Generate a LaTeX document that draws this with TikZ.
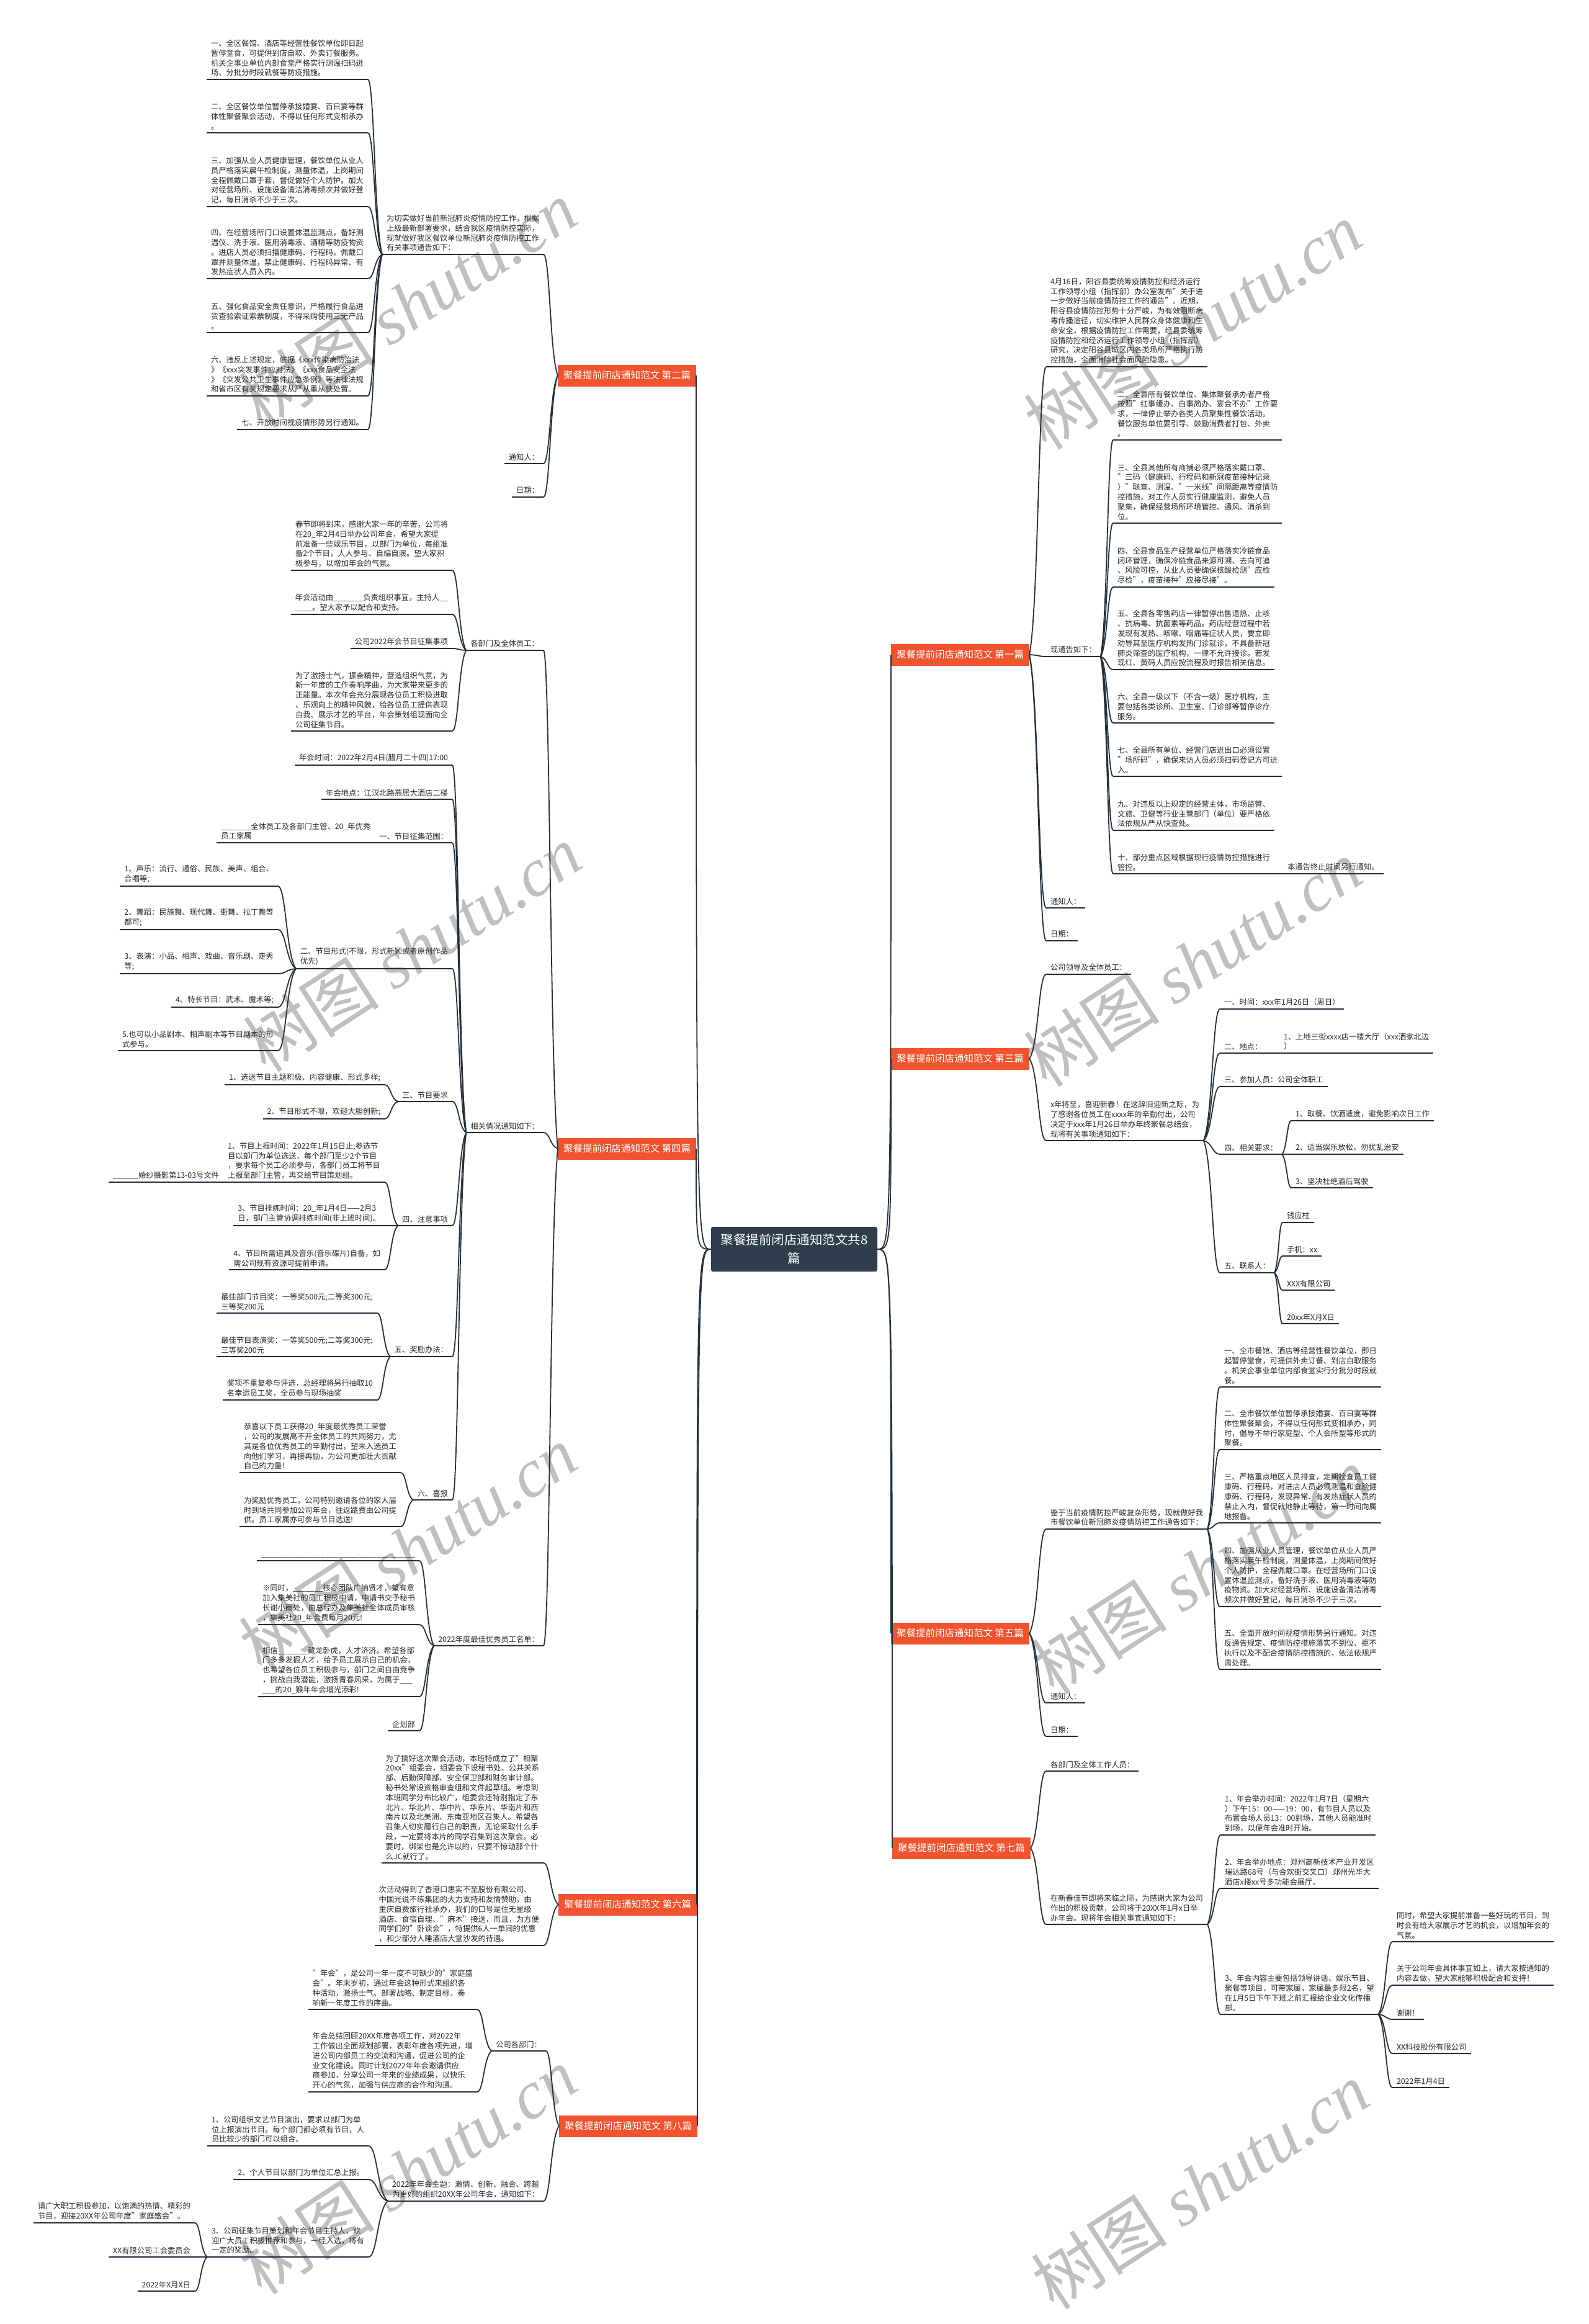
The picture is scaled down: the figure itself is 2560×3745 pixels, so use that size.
\documentclass[tikz,border=0pt]{standalone}
\usepackage{fontspec}
\setmainfont{Noto Sans CJK SC}
\newfontfamily\wmlat{Liberation Serif}
\usetikzlibrary{calc}
\definecolor{linec}{RGB}{35,47,58}
\definecolor{txt}{RGB}{40,40,40}
\definecolor{redn}{RGB}{240,83,45}
\definecolor{cen}{RGB}{47,62,77}
\newcommand\fsz{\fontsize{12.3}{15.8}\selectfont}
\newcommand\cn[2]{\draw[conn] let \p1=(#1), \p2=(#2) in (\p1) .. controls ({\x1+0.55*(\x2-\x1)},{\y1+0.15*(\y2-\y1)}) and ({\x1+0.55*(\x2-\x1)},{\y2}) .. (\p2);}
\newcommand\ccL[1]{\draw[conn] (c.west) .. controls (#1.east |- c.west) .. (#1.east);}
\newcommand\ccR[1]{\draw[conn] (c.east) .. controls (#1.west |- c.east) .. (#1.west);}
\tikzset{
  conn/.style={draw=linec, line width=1.8pt},
  ul/.style={draw=linec, line width=2.4pt},
  lf/.style={font=\fsz, text=txt, align=left, inner xsep=7pt, inner ysep=5pt, outer sep=0pt,
    append after command={(\tikzlastnode.south west) edge[ul] (\tikzlastnode.south east)}},
  lfL/.style={lf, anchor=south east},
  lfR/.style={lf, anchor=south west},
  topic/.style={fill=redn, text=white, font=\fontsize{15.5}{18}\selectfont, inner xsep=9pt, inner ysep=0pt, minimum height=35pt, outer sep=0pt},
  cenn/.style={fill=cen, text=white, align=center, font=\fontsize{20.5}{30}\selectfont, minimum width=268pt, minimum height=72pt, rounded corners=3pt, outer sep=0pt},
  wm/.style={text=black!25, font=\fontsize{110}{120}\selectfont, rotate=33}
}
\begin{document}
\begin{tikzpicture}[x=1pt,y=-1pt]
\path[fill=white] (0,0) rectangle (2560,3745);
\useasboundingbox (0,0) rectangle (2560,3745);
% watermarks
\foreach \wx/\wy in {657/490, 1922/525, 664/1528, 1922/1552, 657/2496, 1934/2531, 657/3498, 1934/3522}
  \node[wm] at (\wx,\wy) {树图 {\wmlat\itshape shutu.cn}};

% center
\node[cenn] (c) at (1280,2013) {聚餐提前闭店通知范文共8\\篇};

% ---------- 第二篇 ----------
\node[topic, anchor=east] (r2) at (1122,605) {聚餐提前闭店通知范文 第二篇};
\node[lfL] (a0) at (876,410) {为切实做好当前新冠肺炎疫情防控工作，根据\\上级最新部署要求，结合我区疫情防控实际，\\现就做好我区餐饮单位新冠肺炎疫情防控工作\\有关事项通告如下：};
\node[lfL] (a1) at (593,128) {一、全区餐馆、酒店等经营性餐饮单位即日起\\暂停堂食，可提供到店自取、外卖订餐服务。\\机关企事业单位内部食堂严格实行测温扫码进\\场、分批分时段就餐等防疫措施。};
\node[lfL] (a2) at (593,214) {二、全区餐饮单位暂停承接婚宴、百日宴等群\\体性聚餐聚会活动，不得以任何形式变相承办\\。};
\node[lfL] (a3) at (593,333) {三、加强从业人员健康管理，餐饮单位从业人\\员严格落实晨午检制度，测量体温，上岗期间\\全程佩戴口罩手套，督促做好个人防护。加大\\对经营场所、设施设备清洁消毒频次并做好登\\记，每日消杀不少于三次。};
\node[lfL] (a4) at (593,449) {四、在经营场所门口设置体温监测点，备好测\\温仪、洗手液、医用消毒液、酒精等防疫物资\\。进店人员必须扫描健康码、行程码，佩戴口\\罩并测量体温，禁止健康码、行程码异常、有\\发热症状人员入内。};
\node[lfL] (a5) at (593,536) {五、强化食品安全责任意识，严格履行食品进\\货查验索证索票制度，不得采购使用三无产品\\。};
\node[lfL] (a6) at (593,638) {六、违反上述规定，依据《xxx传染病防治法\\》《xxx突发事件应对法》《xxx食品安全法\\》《突发公共卫生事件应急条例》等法律法规\\和省市区有关规定要求从严从重从快处置。};
\node[lfL] (a7) at (593,692) {七、开放时间视疫情形势另行通知。};
\node[lfL] (a8) at (876,747) {通知人：};
\node[lfL] (a9) at (876,801) {日期：};

% ---------- 第四篇 ----------
\node[topic, anchor=east] (r4) at (1122,1851) {聚餐提前闭店通知范文 第四篇};
\node[lfL] (b1) at (876,1048) {各部门及全体员工：};
\node[lfL] (b11) at (729,919) {春节即将到来，感谢大家一年的辛苦，公司将\\在20\_年2月4日举办公司年会，希望大家提\\前准备一些娱乐节目，以部门为单位，每组准\\备2个节目，人人参与、自编自演。望大家积\\极参与，以增加年会的气氛。};
\node[lfL] (b12) at (729,990) {年会活动由\_\_\_\_\_\_\_负责组织事宜，主持人\_\_\\\_\_\_\_。望大家予以配合和支持。};
\node[lfL] (b13) at (729,1045) {公司2022年会节目征集事项};
\node[lfL] (b14) at (729,1178) {为了激扬士气，振奋精神，营造组织气氛，为\\新一年度的工作奏响序曲，为大家带来更多的\\正能量。本次年会充分展现各位员工积极进取\\、乐观向上的精神风貌，给各位员工提供表现\\自我、展示才艺的平台，年会策划组现面向全\\公司征集节目。};
\node[lfL] (b2) at (876,1825) {相关情况通知如下：};
\node[lfL] (b21) at (729,1233) {年会时间：2022年2月4日(腊月二十四)17:00};
\node[lfL] (b22) at (729,1288) {年会地点：江汉北路燕居大酒店二楼};
\node[lfL] (b23) at (729,1358) {一、节目征集范围：};
\node[lfL] (b231) at (b23.south west) {\_\_\_\_\_\_\_全体员工及各部门主管、20\_年优秀\\员工家属};
\node[lfL] (b24) at (729,1561) {二、节目形式(不限，形式新颖或者原创作品\\优先)};
\node[lfL] (b241) at (448,1428) {1、声乐：流行、通俗、民族、美声、组合、\\合唱等;};
\node[lfL] (b242) at (448,1498) {2、舞蹈：民族舞、现代舞、街舞、拉丁舞等\\都可;};
\node[lfL] (b243) at (448,1569) {3、表演：小品、相声、戏曲、音乐剧、走秀\\等;};
\node[lfL] (b244) at (448,1623) {4、特长节目：武术、魔术等;};
\node[lfL] (b245) at (448,1693) {5.也可以小品剧本、相声剧本等节目剧本的形\\式参与。};
\node[lfL] (b25) at (729,1775) {三、节目要求};
\node[lfL] (b251) at (620,1748) {1、选送节目主题积极、内容健康、形式多样;};
\node[lfL] (b252) at (620,1803) {2、节目形式不限，欢迎大胆创新;};
\node[lfL] (b26) at (729,1975) {四、注意事项};
\node[lfL] (b261) at (620,1905) {1、节目上报时间：2022年1月15日止;参选节\\目以部门为单位选送，每个部门至少2个节目\\，要求每个员工必须参与，各部门员工将节目\\上报至部门主管，再交给节目策划组。};
\node[lfL] (b2611) at (b261.south west) {\_\_\_\_\_\_婚纱摄影第13-03号文件};
\node[lfL] (b262) at (620,1975) {3、节目排练时间：20\_年1月4日——2月3\\日，部门主管协调排练时间(非上班时间)。};
\node[lfL] (b263) at (620,2046) {4、节目所需道具及音乐(音乐碟片)自备，如\\需公司现有资源可提前申请。};
\node[lfL] (b27) at (729,2186) {五、奖励办法：};
\node[lfL] (b271) at (608,2116) {最佳部门节目奖：一等奖500元;二等奖300元;\\三等奖200元};
\node[lfL] (b272) at (608,2186) {最佳节目表演奖：一等奖500元;二等奖300元;\\三等奖200元};
\node[lfL] (b273) at (608,2256) {奖项不重复参与评选，总经理将另行抽取10\\名幸运员工奖，全员参与现场抽奖};
\node[lfL] (b28) at (729,2417) {六、喜报};
\node[lfL] (b281) at (646,2373) {恭喜以下员工获得20\_年度最优秀员工荣誉\\，公司的发展离不开全体员工的共同努力，尤\\其是各位优秀员工的辛勤付出，望未入选员工\\向他们学习，再接再励，为公司更加壮大贡献\\自己的力量!};
\node[lfL] (b282) at (646,2460) {为奖励优秀员工，公司特别邀请各位的家人届\\时到场共同参加公司年会，往返路费由公司提\\供。员工家属亦可参与节目选送!};
\node[lfL] (b3) at (876,2652) {2022年度最佳优秀员工名单：};
\node[lfL] (b31) at (676,2515) {\_\_\_\_\_\_\_\_\_\_\_\_\_\_\_\_\_\_\_\_\_\_\_\_\_\_\_\_\_\_\_\_\_\_\_\_};
\node[lfL] (b32) at (676,2618) {※同时，\_\_\_\_\_\_\_核心团队广纳贤才，望有意\\加入集美社的员工积极申请，申请书交予秘书\\长谢小雨处，由总经办及集美社全体成员审核\\，集美社20\_年会费每月20元!};
\node[lfL] (b33) at (676,2734) {相信\_\_\_\_\_\_\_藏龙卧虎，人才济济。希望各部\\门多多发掘人才，给予员工展示自己的机会，\\也希望各位员工积极参与，部门之间自由竞争\\，挑战自我潜能，激扬青春风采，为属于\_\_\_\\\_\_\_的20\_猴年年会增光添彩!};
\node[lfL] (b34) at (676,2789) {企划部};

% ---------- 第六篇 ----------
\node[topic, anchor=east] (r6) at (1123,3069) {聚餐提前闭店通知范文 第六篇};
\node[lfL] (c1) at (876,3002) {为了搞好这次聚会活动，本班特成立了"相聚\\20xx"组委会，组委会下设秘书处、公共关系\\部、后勤保障部、安全保卫部和财务审计部。\\秘书处常设资格审查组和文件起草组。考虑到\\本班同学分布比较广，组委会还特别指定了东\\北片、华北片、华中片、华东片、华南片和西\\南片以及北美洲、东南亚地区召集人。希望各\\召集人切实履行自己的职责，无论采取什么手\\段，一定要将本片的同学召集到这次聚会。必\\要时，绑架也是允许以的，只要不惊动那个什\\么JC就行了。};
\node[lfL] (c2) at (876,3135) {次活动得到了香港口惠实不至股份有限公司、\\中国光说不练集团的大力支持和友情赞助，由\\重庆自费旅行社承办，我们的口号是住无星级\\酒店、食宿自理、"麻木"接送，而且，为方便\\同学们的"卧谈会"，特提供6人一单间的优惠\\，和少部分人睡酒店大堂沙发的待遇。};

% ---------- 第八篇 ----------
\node[topic, anchor=east] (r8) at (1124,3426) {聚餐提前闭店通知范文 第八篇};
\node[lfL] (d1) at (880,3305) {公司各部门：};
\node[lfL] (d11) at (769,3238) {"年会"，是公司一年一度不可缺少的"家庭盛\\会"。年末岁初，通过年会这种形式来组织各\\种活动，激扬士气、部署战略、制定目标，奏\\响新一年度工作的序曲。};
\node[lfL] (d12) at (769,3371) {年会总结回顾20XX年度各项工作，对2022年\\工作做出全面规划部署，表彰年度各项先进，增\\进公司内部员工的交流和沟通，促进公司的企\\业文化建设。同时计划2022年年会邀请供应\\商参加，分享公司一年来的业绩成果，以快乐\\开心的气氛，加强与供应商的合作和沟通。};
\node[lfL] (d2) at (876,3547) {2022年年会主题：激情、创新、融合、跨越\\为更好的组织20XX年公司年会，通知如下：};
\node[lfL] (d21) at (594,3458) {1、公司组织文艺节目演出，要求以部门为单\\位上报演出节目。每个部门都必须有节目，人\\员比较少的部门可以组合。};
\node[lfL] (d22) at (594,3512) {2、个人节目以部门为单位汇总上报。};
\node[lfL] (d23) at (594,3637) {3、公司征集节目策划和年会节目主持人，欢\\迎广大员工积极推荐和参与，一经入选，将有\\一定的奖励。};
\node[lfL] (d231) at (314,3582) {请广大职工积极参加，以饱满的热情、精彩的\\节目，迎接20XX年公司年度"家庭盛会"。};
\node[lfL] (d232) at (314,3637) {XX有限公司工会委员会};
\node[lfL] (d233) at (314,3692) {2022年X月X日};

% ---------- 第一篇 ----------
\node[topic, anchor=west] (r1) at (1436,1055) {聚餐提前闭店通知范文 第一篇};
\node[lfR] (e0) at (1686,591) {4月16日，阳谷县委统筹疫情防控和经济运行\\工作领导小组（指挥部）办公室发布"关于进\\一步做好当前疫情防控工作的通告"。近期，\\阳谷县疫情防控形势十分严峻，为有效阻断病\\毒传播途径，切实维护人民群众身体健康和生\\命安全，根据疫情防控工作需要，经县委统筹\\疫情防控和经济运行工作领导小组（指挥部）\\研究，决定阳谷县城区内各类场所严格执行防\\控措施，全面消除社会面风险隐患。};
\node[lfR] (e1) at (1686,1058) {现通告如下：};
\node[lfR] (e11) at (1794,709) {二、全县所有餐饮单位、集体聚餐承办者严格\\按照"红事缓办、白事简办、宴会不办"工作要\\求，一律停止举办各类人员聚集性餐饮活动。\\餐饮服务单位要引导、鼓励消费者打包、外卖\\。};
\node[lfR] (e12) at (1794,843) {三、全县其他所有商铺必须严格落实戴口罩、\\"三码（健康码、行程码和新冠疫苗接种记录\\）"联查、测温、"一米线"间隔距离等疫情防\\控措施，对工作人员实行健康监测，避免人员\\聚集，确保经营场所环境管控、通风、消杀到\\位。};
\node[lfR] (e13) at (1794,946) {四、全县食品生产经营单位严格落实冷链食品\\闭环管理，确保冷链食品来源可溯、去向可追\\、风险可控，从业人员要确保核酸检测"应检\\尽检"，疫苗接种"应接尽接"。};
\node[lfR] (e14) at (1794,1079) {五、全县各零售药店一律暂停出售退热、止咳\\、抗病毒、抗菌素等药品。药店经营过程中若\\发现有发热、咳嗽、咽痛等症状人员，要立即\\劝导其至医疗机构发热门诊就诊，不具备新冠\\肺炎筛查的医疗机构，一律不允许接诊。若发\\现红、黄码人员应按流程及时报告相关信息。};
\node[lfR] (e15) at (1794,1165) {六、全县一级以下（不含一级）医疗机构，主\\要包括各类诊所、卫生室、门诊部等暂停诊疗\\服务。};
\node[lfR] (e16) at (1794,1251) {七、全县所有单位、经营门店进出口必须设置\\"场所码"，确保来访人员必须扫码登记方可进\\入。};
\node[lfR] (e17) at (1794,1338) {九、对违反以上规定的经营主体，市场监管、\\文旅、卫健等行业主管部门（单位）要严格依\\法依规从严从快查处。};
\node[lfR] (e18) at (1794,1408) {十、部分重点区域根据现行疫情防控措施进行\\管控。};
\node[lfR] (e181) at (2068,1408) {本通告终止时间另行通知。};
\node[lfR] (e2) at (1686,1463) {通知人：};
\node[lfR] (e3) at (1686,1516) {日期：};

% ---------- 第三篇 ----------
\node[topic, anchor=west] (r3) at (1436,1706) {聚餐提前闭店通知范文 第三篇};
\node[lfR] (f1) at (1686,1570) {公司领导及全体员工：};
\node[lfR] (f2) at (1686,1838) {x年将至，喜迎新春！在这辞旧迎新之际，为\\了感谢各位员工在xxxx年的辛勤付出，公司\\决定于xxx年1月26日举办年终聚餐总结会，\\现将有关事项通知如下：};
\node[lfR] (f21) at (1966,1626) {一、时间：xxx年1月26日（周日）};
\node[lfR] (f22) at (1966,1697) {二、地点：};
\node[lfR] (f221) at (2062,1697) {1、上地三街xxxx店一楼大厅（xxx酒家北边\\）};
\node[lfR] (f23) at (1966,1751) {三、参加人员：公司全体职工};
\node[lfR] (f24) at (1966,1860) {四、相关要求：};
\node[lfR] (f241) at (2081,1806) {1、取餐、饮酒适度，避免影响次日工作};
\node[lfR] (f242) at (2081,1860) {2、适当娱乐放松，勿扰乱治安};
\node[lfR] (f243) at (2081,1914) {3、坚决杜绝酒后驾驶};
\node[lfR] (f25) at (1966,2051) {五、联系人：};
\node[lfR] (f251) at (2067,1970) {钱应柱};
\node[lfR] (f252) at (2067,2024) {手机：xx};
\node[lfR] (f253) at (2067,2079) {XXX有限公司};
\node[lfR] (f254) at (2067,2133) {20xx年X月X日};

% ---------- 第五篇 ----------
\node[topic, anchor=west] (r5) at (1436,2632) {聚餐提前闭店通知范文 第五篇};
\node[lfR] (g1) at (1686,2464) {鉴于当前疫情防控严峻复杂形势，现就做好我\\市餐饮单位新冠肺炎疫情防控工作通告如下：};
\node[lfR] (g11) at (1966,2235) {一、全市餐馆、酒店等经营性餐饮单位，即日\\起暂停堂食，可提供外卖订餐、到店自取服务\\。机关企事业单位内部食堂实行分批分时段就\\餐。};
\node[lfR] (g12) at (1966,2336) {二、全市餐饮单位暂停承接婚宴、百日宴等群\\体性聚餐聚会，不得以任何形式变相承办，同\\时，倡导不举行家庭型、个人会所型等形式的\\聚餐。};
\node[lfR] (g13) at (1966,2454) {三、严格重点地区人员排查，定期检查员工健\\康码、行程码，对进店人员必须测温和查验健\\康码、行程码，发现异常、有发热症状人员的\\禁止入内，督促就地静止等待，第一时间向属\\地报备。};
\node[lfR] (g14) at (1966,2589) {四、加强从业人员管理，餐饮单位从业人员严\\格落实晨午检制度，测量体温，上岗期间做好\\个人防护，全程佩戴口罩。在经营场所门口设\\置体温监测点，备好洗手液、医用消毒液等防\\疫物资。加大对经营场所、设施设备清洁消毒\\频次并做好登记，每日消杀不少于三次。};
\node[lfR] (g15) at (1966,2690) {五、全面开放时间视疫情形势另行通知。对违\\反通告规定、疫情防控措施落实不到位、拒不\\执行以及不配合疫情防控措施的，依法依规严\\肃处理。};
\node[lfR] (g2) at (1686,2744) {通知人：};
\node[lfR] (g3) at (1686,2798) {日期：};

% ---------- 第七篇 ----------
\node[topic, anchor=west] (r7) at (1438,2978) {聚餐提前闭店通知范文 第七篇};
\node[lfR] (h1) at (1686,2854) {各部门及全体工作人员：};
\node[lfR] (h2) at (1686,3101) {在新春佳节即将来临之际，为感谢大家为公司\\作出的积极贡献，公司将于20XX年1月x日举\\办年会。现将年会相关事宜通知如下：};
\node[lfR] (h21) at (1967,2957) {1、年会举办时间：2022年1月7日（星期六\\）下午15：00——19：00，有节目人员以及\\布置会场人员13：00到场，其他人员能准时\\到场，以便年会准时开始。};
\node[lfR] (h22) at (1967,3043) {2、年会举办地点：郑州高新技术产业开发区\\瑞达路68号（与合欢街交叉口）郑州光华大\\酒店x楼xx号多功能会展厅。};
\node[lfR] (h23) at (1967,3246) {3、年会内容主要包括领导讲话、娱乐节目、\\聚餐等项目，可带家属，家属最多限2名，望\\在1月5日下午下班之前汇报给企业文化传播\\部。};
\node[lfR] (h231) at (2244,3129) {同时，希望大家提前准备一些好玩的节目，到\\时会有给大家展示才艺的机会，以增加年会的\\气氛。};
\node[lfR] (h232) at (2244,3199) {关于公司年会具体事宜如上，请大家按通知的\\内容去做，望大家能够积极配合和支持！};
\node[lfR] (h233) at (2244,3254) {谢谢！};
\node[lfR] (h234) at (2244,3309) {XX科技股份有限公司};
\node[lfR] (h235) at (2244,3364) {2022年1月4日};

% ---------- connectors ----------
\ccL{r2} \ccL{r4} \ccL{r6} \ccL{r8}
\ccR{r1} \ccR{r3} \ccR{r5} \ccR{r7}
% left
\foreach \ch in {a0,a8,a9} {\cn{r2.west}{\ch.south east}}
\foreach \ch in {a1,a2,a3,a4,a5,a6,a7} {\cn{a0.south west}{\ch.south east}}
\foreach \ch in {b1,b2,b3} {\cn{r4.west}{\ch.south east}}
\foreach \ch in {b11,b12,b13,b14} {\cn{b1.south west}{\ch.south east}}
\foreach \ch in {b21,b22,b23,b24,b25,b26,b27,b28} {\cn{b2.south west}{\ch.south east}}
\cn{b23.south west}{b231.south east}
\foreach \ch in {b241,b242,b243,b244,b245} {\cn{b24.south west}{\ch.south east}}
\foreach \ch in {b251,b252} {\cn{b25.south west}{\ch.south east}}
\foreach \ch in {b261,b262,b263} {\cn{b26.south west}{\ch.south east}}
\cn{b261.south west}{b2611.south east}
\foreach \ch in {b271,b272,b273} {\cn{b27.south west}{\ch.south east}}
\foreach \ch in {b281,b282} {\cn{b28.south west}{\ch.south east}}
\foreach \ch in {b31,b32,b33,b34} {\cn{b3.south west}{\ch.south east}}
\foreach \ch in {c1,c2} {\cn{r6.west}{\ch.south east}}
\foreach \ch in {d1,d2} {\cn{r8.west}{\ch.south east}}
\foreach \ch in {d11,d12} {\cn{d1.south west}{\ch.south east}}
\foreach \ch in {d21,d22,d23} {\cn{d2.south west}{\ch.south east}}
\foreach \ch in {d231,d232,d233} {\cn{d23.south west}{\ch.south east}}
% right
\foreach \ch in {e0,e1,e2,e3} {\cn{r1.east}{\ch.south west}}
\foreach \ch in {e11,e12,e13,e14,e15,e16,e17,e18} {\cn{e1.south east}{\ch.south west}}
\cn{e18.south east}{e181.south west}
\foreach \ch in {f1,f2} {\cn{r3.east}{\ch.south west}}
\foreach \ch in {f21,f22,f23,f24,f25} {\cn{f2.south east}{\ch.south west}}
\cn{f22.south east}{f221.south west}
\foreach \ch in {f241,f242,f243} {\cn{f24.south east}{\ch.south west}}
\foreach \ch in {f251,f252,f253,f254} {\cn{f25.south east}{\ch.south west}}
\foreach \ch in {g1,g2,g3} {\cn{r5.east}{\ch.south west}}
\foreach \ch in {g11,g12,g13,g14,g15} {\cn{g1.south east}{\ch.south west}}
\foreach \ch in {h1,h2} {\cn{r7.east}{\ch.south west}}
\foreach \ch in {h21,h22,h23} {\cn{h2.south east}{\ch.south west}}
\foreach \ch in {h231,h232,h233,h234,h235} {\cn{h23.south east}{\ch.south west}}
\end{tikzpicture}
\end{document}
